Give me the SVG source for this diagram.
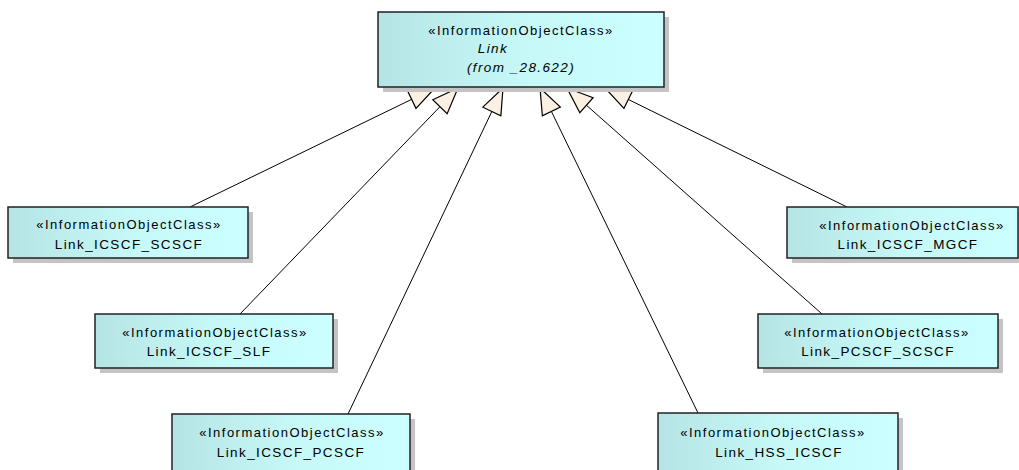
<svg xmlns="http://www.w3.org/2000/svg" width="1019" height="470" viewBox="0 0 1019 470">
  <defs>
    <linearGradient id="boxfill" x1="0" y1="0" x2="1" y2="0">
      <stop offset="0" stop-color="#b6e4e4"/>
      <stop offset="0.5" stop-color="#c6f8f8"/>
      <stop offset="1" stop-color="#ccffff"/>
    </linearGradient>
    <marker id="gen" markerUnits="userSpaceOnUse" markerWidth="30" markerHeight="24" viewBox="-2 -2 30 24" refX="26" refY="10" orient="auto">
      <path d="M0,0 L26,10 L0,20 Z" fill="#fbf0e2" stroke="#000" stroke-width="1.2"/>
    </marker>
  </defs>
  <style>
    .shadow { fill: #c4c4c4; }
    .box { fill: url(#boxfill); stroke: #222; stroke-width: 1.5; }
    .st { font-family: "Liberation Sans", Arial, sans-serif; font-size: 13px; letter-spacing: 1.5px; text-anchor: middle; fill: #000; }
    .nm { font-family: "Liberation Sans", Arial, sans-serif; font-size: 13.5px; letter-spacing: 1.4px; text-anchor: middle; fill: #000; }
    .it { font-style: italic; }
    .conn { stroke: #000; stroke-width: 1; fill: none; marker-end: url(#gen); }
  </style>
  <rect width="1019" height="470" fill="#fff"/>

  <g id="connectors">
    <line class="conn" x1="190" y1="207" x2="435" y2="88"/>
    <line class="conn" x1="240" y1="314" x2="458" y2="88"/>
    <line class="conn" x1="348" y1="414" x2="503" y2="88"/>
    <line class="conn" x1="698" y1="413" x2="540" y2="88"/>
    <line class="conn" x1="822" y1="314" x2="567" y2="88"/>
    <line class="conn" x1="847" y1="207" x2="605" y2="88"/>
  </g>

  <g id="Link">
    <rect class="shadow" x="383" y="17" width="286" height="75"/>
    <rect class="box" x="378" y="12" width="286" height="75"/>
    <text class="st" x="521" y="35">«InformationObjectClass»</text>
    <text class="nm it" x="493" y="53">Link</text>
    <text class="nm it" x="521" y="72">(from _28.622)</text>
  </g>

  <g id="Link_ICSCF_SCSCF">
    <rect class="shadow" x="13" y="212" width="240" height="51"/>
    <rect class="box" x="8" y="207" width="240" height="51"/>
    <text class="st" x="129" y="229">«InformationObjectClass»</text>
    <text class="nm" x="129" y="249">Link_ICSCF_SCSCF</text>
  </g>

  <g id="Link_ICSCF_SLF">
    <rect class="shadow" x="100" y="319" width="238" height="54"/>
    <rect class="box" x="95" y="314" width="238" height="54"/>
    <text class="st" x="215" y="337">«InformationObjectClass»</text>
    <text class="nm" x="209" y="356">Link_ICSCF_SLF</text>
  </g>

  <g id="Link_ICSCF_PCSCF">
    <rect class="shadow" x="177" y="419" width="238" height="60"/>
    <rect class="box" x="172" y="414" width="238" height="60"/>
    <text class="st" x="292" y="437">«InformationObjectClass»</text>
    <text class="nm" x="291" y="457">Link_ICSCF_PCSCF</text>
  </g>

  <g id="Link_HSS_ICSCF">
    <rect class="shadow" x="663" y="418" width="240" height="60"/>
    <rect class="box" x="658" y="413" width="240" height="60"/>
    <text class="st" x="773" y="437">«InformationObjectClass»</text>
    <text class="nm" x="779" y="457">Link_HSS_ICSCF</text>
  </g>

  <g id="Link_PCSCF_SCSCF">
    <rect class="shadow" x="763" y="319" width="240" height="54"/>
    <rect class="box" x="758" y="314" width="240" height="54"/>
    <text class="st" x="877" y="337">«InformationObjectClass»</text>
    <text class="nm" x="878" y="356">Link_PCSCF_SCSCF</text>
  </g>

  <g id="Link_ICSCF_MGCF">
    <rect class="shadow" x="792" y="212" width="231" height="51"/>
    <rect class="box" x="787" y="207" width="231" height="51"/>
    <text class="st" x="912" y="230">«InformationObjectClass»</text>
    <text class="nm" x="908" y="249">Link_ICSCF_MGCF</text>
  </g>
</svg>
